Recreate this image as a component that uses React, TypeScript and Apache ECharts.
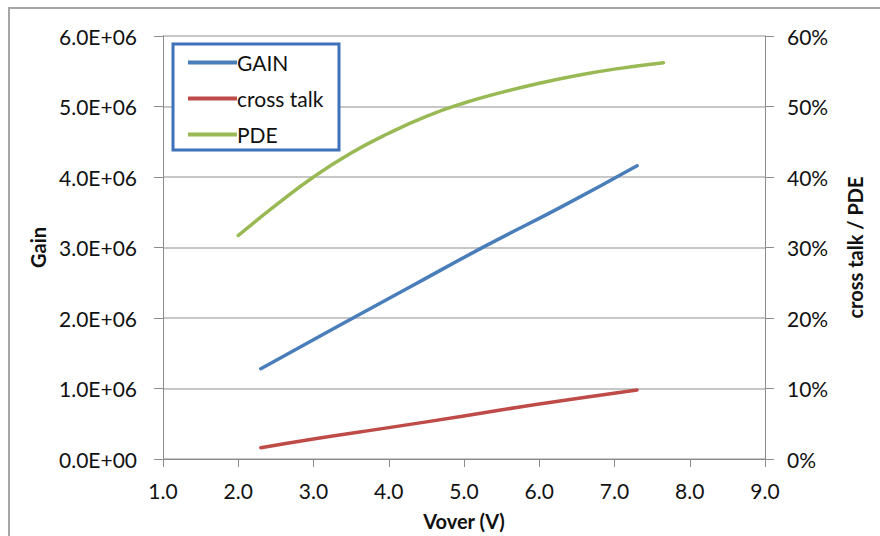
import React, { useEffect, useRef } from "react";
import * as echarts from "echarts";

const gainX = [2.3, 3.3, 4.3, 5.3, 6.3, 7.3];
const gainValues = [1.28e6, 1.87e6, 2.45e6, 3.03e6, 3.58e6, 4.16e6];

const crossTalkX = [2.3, 3.0, 4.0, 5.0, 6.0, 7.3];
const crossTalkValues = [1.6, 2.85, 4.45, 6.1, 7.8, 9.8];

const pdeX = [2.0, 2.5, 3.0, 3.5, 4.0, 4.5, 5.0, 5.5, 6.0, 6.5, 7.0, 7.65];
const pdeValues = [31.7, 36.0, 40.0, 43.4, 46.2, 48.6, 50.5, 52.0, 53.3, 54.4, 55.3, 56.2];

const xTicks = { min: 1, max: 9, interval: 1 };
const gainTicks = { min: 0, max: 6e6, interval: 1e6 };
const pctTicks = { min: 0, max: 60, interval: 10 };

const FONT = "Lato";
const AXIS_GRAY = "#8c8c8c";
const GRID_GRAY = "#b4b4b4";
const TEXT = "#111111";

function pairs(xs: number[], ys: number[]) {
  return xs.map((x, i) => [x, ys[i]]);
}

export default function App() {
  const ref = useRef<HTMLDivElement>(null);
  useEffect(() => {
    if (!ref.current) return;
    const chart = echarts.init(ref.current, null, { renderer: "svg" });
    chart.setOption({
      animation: false,
      backgroundColor: "#ffffff",
      textStyle: { fontFamily: FONT },
      grid: { left: 163, right: 115, top: 36, bottom: 77, containLabel: false },
      graphic: [
        {
          type: "rect",
          shape: { x: 9, y: 8, width: 900, height: 600 },
          style: { fill: "none", stroke: "#a6a6a6", lineWidth: 2 },
          silent: true,
          z: -1,
        },
        {
          type: "rect",
          shape: { x: 173, y: 44, width: 166, height: 106 },
          style: { fill: "#ffffff", stroke: "#3f72b8", lineWidth: 3 },
          z: 50,
        },
      ],
      legend: {
        orient: "vertical",
        left: 183,
        top: 47,
        itemWidth: 49,
        itemHeight: 4,
        itemGap: 15,
        icon: "rect",
        z: 60,
        textStyle: { fontFamily: FONT, fontSize: 21, color: TEXT, padding: [0, 0, 0, -5] },
        data: ["GAIN", "cross talk", "PDE"],
      },
      xAxis: {
        type: "value",
        ...xTicks,
        name: "Vover (V)",
        nameLocation: "middle",
        nameGap: 52,
        nameTextStyle: { fontFamily: FONT, fontSize: 20, fontWeight: "bold", color: TEXT },
        axisLine: { show: true, lineStyle: { color: AXIS_GRAY, width: 1 } },
        axisTick: { show: true, inside: false, length: 8, lineStyle: { color: AXIS_GRAY } },
        splitLine: { show: false },
        axisLabel: {
          margin: 21,
          fontFamily: FONT,
          fontSize: 21,
          color: TEXT,
          formatter: (v: number) => v.toFixed(1),
        },
      },
      yAxis: [
        {
          type: "value",
          ...gainTicks,
          position: "left",
          name: "Gain",
          nameLocation: "middle",
          nameRotate: 90,
          nameGap: 114,
          nameTextStyle: { fontFamily: FONT, fontSize: 20, fontWeight: "bold", color: TEXT },
          axisLine: { show: true, lineStyle: { color: AXIS_GRAY, width: 1 } },
          axisTick: { show: true, length: 9, lineStyle: { color: AXIS_GRAY } },
          splitLine: { show: true, lineStyle: { color: GRID_GRAY, width: 1.5 } },
          axisLabel: {
            margin: 26,
            fontFamily: FONT,
            fontSize: 21,
            color: TEXT,
            formatter: (v: number) =>
              v === 0 ? "0.0E+00" : (v / 1e6).toFixed(1) + "E+06",
          },
        },
        {
          type: "value",
          ...pctTicks,
          position: "right",
          name: "cross talk / PDE",
          nameLocation: "middle",
          nameRotate: 90,
          nameGap: 80,
          nameTextStyle: { fontFamily: FONT, fontSize: 20, fontWeight: "bold", color: TEXT },
          axisLine: { show: true, lineStyle: { color: AXIS_GRAY, width: 1 } },
          axisTick: { show: true, length: 9, lineStyle: { color: AXIS_GRAY } },
          splitLine: { show: false },
          axisLabel: {
            margin: 22,
            fontFamily: FONT,
            fontSize: 21,
            color: TEXT,
            formatter: (v: number) => Math.round(v) + "%",
          },
        },
      ],
      series: [
        {
          name: "GAIN",
          type: "line",
          yAxisIndex: 0,
          data: pairs(gainX, gainValues),
          smooth: true,
          showSymbol: false,
          symbol: "none",
          lineStyle: { color: "#4a7ebb", width: 3.5, cap: "round" },
          itemStyle: { color: "#4a7ebb" },
        },
        {
          name: "cross talk",
          type: "line",
          yAxisIndex: 1,
          data: pairs(crossTalkX, crossTalkValues),
          smooth: true,
          showSymbol: false,
          symbol: "none",
          lineStyle: { color: "#be4b48", width: 3.5, cap: "round" },
          itemStyle: { color: "#be4b48" },
        },
        {
          name: "PDE",
          type: "line",
          yAxisIndex: 1,
          data: pairs(pdeX, pdeValues),
          smooth: true,
          showSymbol: false,
          symbol: "none",
          lineStyle: { color: "#98b954", width: 3.5, cap: "round" },
          itemStyle: { color: "#98b954" },
        },
      ],
    });
    return () => chart.dispose();
  }, []);
  return (
    <div
      ref={ref}
      style={{ position: "fixed", left: 0, top: 0, width: 880, height: 536 }}
    />
  );
}
